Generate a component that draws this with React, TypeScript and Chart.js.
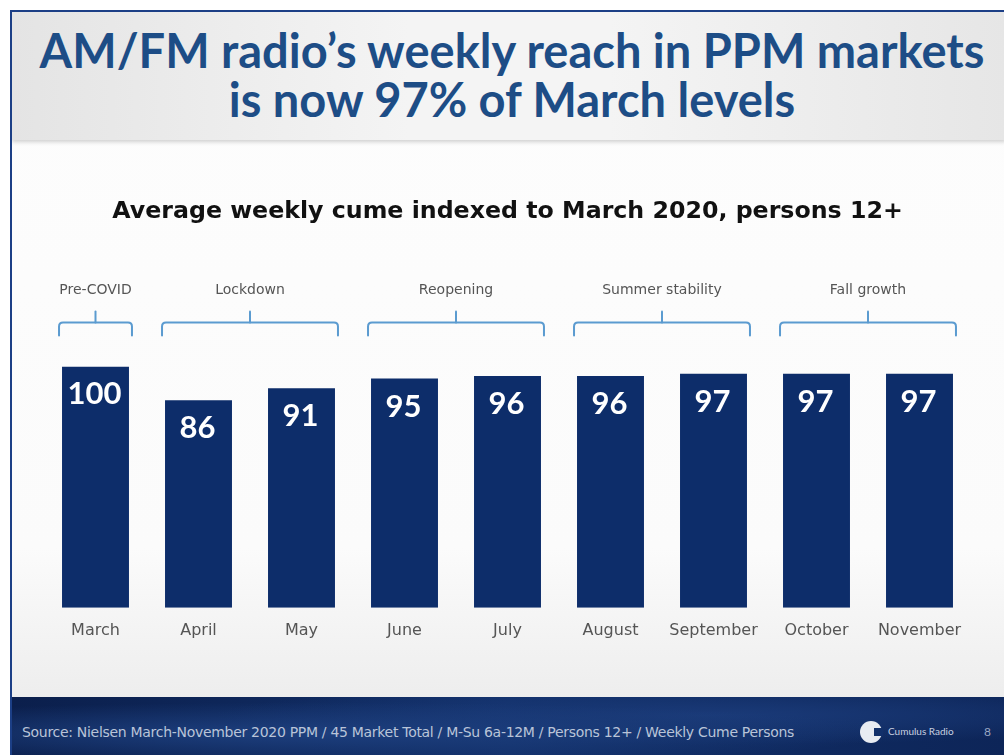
import React, { useEffect, useRef } from "react";
import { Chart, registerables } from "chart.js";

Chart.register(...registerables);

const months = ["March", "April", "May", "June", "July", "August", "September", "October", "November"];
const cumeIndex = [100, 86, 91, 95, 96, 96, 97, 97, 97];
const phaseLabels = ["Pre-COVID", "Lockdown", "Reopening", "Summer stability", "Fall growth"];
const phaseStart = [0, 1, 3, 5, 7];
const phaseEnd = [0, 2, 4, 6, 8];

const titleLines = ["AM/FM radio\u2019s weekly reach in PPM markets", "is now 97% of March levels"];
const subtitle = "Average weekly cume indexed to March 2020, persons 12+";
const sourceText =
  "Source: Nielsen March-November 2020 PPM / 45 Market Total / M-Su 6a-12M / Persons 12+ / Weekly Cume Persons";

const FONT = "Lato, 'DejaVu Sans', sans-serif";
const WIDE = "'DejaVu Sans', Lato, sans-serif";
const BAR_PCT = 0.65;

const overlayPlugin = {
  id: "overlay",
  afterDatasetsDraw(chart: any) {
    const { ctx, chartArea } = chart;
    const meta = chart.getDatasetMeta(0);
    // value labels
    ctx.save();
    ctx.fillStyle = "#ffffff";
    ctx.font = `bold 31px ${FONT}`;
    ctx.textAlign = "center";
    ctx.textBaseline = "middle";
    meta.data.forEach((bar: any, i: number) => {
      ctx.fillText(String(cumeIndex[i]), bar.x - 1, bar.y + 28);
    });
    ctx.restore();

    // brackets
    const xs = chart.scales.x;
    const cat = xs.width / months.length;
    const half = (cat * BAR_PCT) / 2;
    const top = chartArea.top;
    ctx.save();
    ctx.strokeStyle = "#5b9bd0";
    ctx.lineWidth = 2;
    ctx.lineCap = "round";
    for (let g = 0; g < phaseLabels.length; g++) {
      const l = xs.getPixelForValue(phaseStart[g]) - half - 3;
      const r = xs.getPixelForValue(phaseEnd[g]) + half + 3;
      const yh = top - 44;
      const ye = top - 31;
      const cx = (l + r) / 2;
      ctx.beginPath();
      ctx.moveTo(l, ye);
      ctx.lineTo(l, yh + 4);
      ctx.quadraticCurveTo(l, yh, l + 4, yh);
      ctx.lineTo(r - 4, yh);
      ctx.quadraticCurveTo(r, yh, r, yh + 4);
      ctx.lineTo(r, ye);
      ctx.stroke();
      ctx.beginPath();
      ctx.moveTo(cx, yh);
      ctx.lineTo(cx, yh - 11);
      ctx.stroke();
      ctx.fillStyle = "#555555";
      ctx.font = `14px ${WIDE}`;
      ctx.textAlign = "center";
      ctx.textBaseline = "middle";
      ctx.fillText(phaseLabels[g], cx, top - 76);
    }
    ctx.restore();
  },
};

export default function App() {
  const ref = useRef<HTMLCanvasElement | null>(null);
  useEffect(() => {
    document.body.style.margin = "0";
    const chart = new Chart(ref.current as HTMLCanvasElement, {
      type: "bar",
      data: {
        labels: months,
        datasets: [
          {
            data: cumeIndex,
            backgroundColor: "#0d2d6a",
            borderWidth: 0,
            barPercentage: BAR_PCT,
            categoryPercentage: 1,
          },
        ],
      },
      options: {
        animation: false,
        responsive: false,
        layout: { padding: { left: 32, right: 33, top: 0, bottom: 42 } },
        plugins: {
          legend: { display: false },
          tooltip: { enabled: false },
          title: {
            display: true,
            text: subtitle,
            color: "#111111",
            font: { family: WIDE, size: 23.7, weight: "bold", lineHeight: 1.2 },
            padding: { top: 58, bottom: 140 },
          },
        },
        scales: {
          y: { display: false, min: 0, max: 100 },
          x: {
            grid: { display: false, drawTicks: false },
            border: { display: false },
            ticks: { color: "#555555", font: { family: WIDE, size: 16 }, padding: 13 },
          },
        },
      },
      plugins: [overlayPlugin],
    });
    return () => chart.destroy();
  }, []);

  return (
    <div style={{ position: "relative", width: 1004, height: 755, background: "#ffffff", overflow: "hidden", fontFamily: FONT }}>
      <div
        style={{
          position: "absolute",
          left: 10,
          top: 10,
          width: 994,
          height: 745,
          borderLeft: "2px solid #1c3f86",
          borderTop: "2px solid #1c3f86",
          background: "linear-gradient(180deg, #fdfdfd 0%, #fbfbfb 72%, #e8e8e8 100%)",
          overflow: "hidden",
        }}
      >
        <div
          style={{
            position: "absolute",
            left: 0,
            top: 0,
            width: 994,
            height: 128,
            background: "linear-gradient(90deg, #e4e4e4 0%, #f4f4f4 40%, #f4f4f4 60%, #e6e6e6 100%)",
            boxShadow: "0 2px 4px rgba(0,0,0,0.18)",
          }}
        >
          {titleLines.map((t, i) => (
            <div
              key={i}
              style={{
                position: "absolute",
                left: 0,
                width: 1000,
                top: 12 + i * 49,
                textAlign: "center",
                color: "#1d4d86",
                fontWeight: "bold",
                fontSize: 47,
                lineHeight: "52px",
                whiteSpace: "nowrap",
              }}
            >
              {t}
            </div>
          ))}
        </div>
        <canvas ref={ref} width={992} height={555} style={{ position: "absolute", left: 0, top: 128 }} />
        <div
          style={{
            position: "absolute",
            left: 0,
            top: 685,
            width: 994,
            height: 60,
            background:
              "radial-gradient(ellipse at 30% 60%, #1d3f7e 0%, rgba(20,50,100,0) 60%), radial-gradient(ellipse at 70% 30%, #1a3a78 0%, rgba(20,50,100,0) 50%), linear-gradient(90deg, #0b1f4c 0%, #12306a 50%, #0d2558 100%)",
          }}
        >
          <div
            style={{
              position: "absolute",
              left: 10,
              top: 27,
              fontSize: 14,
              fontFamily: WIDE,
              color: "#b9c4d8",
              whiteSpace: "nowrap",
              letterSpacing: "-0.3px",
            }}
          >
            {sourceText}
          </div>
          <div
            style={{
              position: "absolute",
              left: 848,
              top: 24,
              width: 22,
              height: 22,
              borderRadius: 11,
              background: "#e8ecf2",
            }}
          />
          <div
            style={{
              position: "absolute",
              left: 862,
              top: 31,
              width: 9,
              height: 8,
              background: "#12306a",
            }}
          />
          <div style={{ position: "absolute", left: 876, top: 28, fontSize: 10, color: "#c9d1e0", whiteSpace: "nowrap" }}>
            Cumulus Radio
          </div>
          <div style={{ position: "absolute", left: 972, top: 27, fontSize: 12, color: "#9aa8c4" }}>8</div>
        </div>
      </div>
    </div>
  );
}
